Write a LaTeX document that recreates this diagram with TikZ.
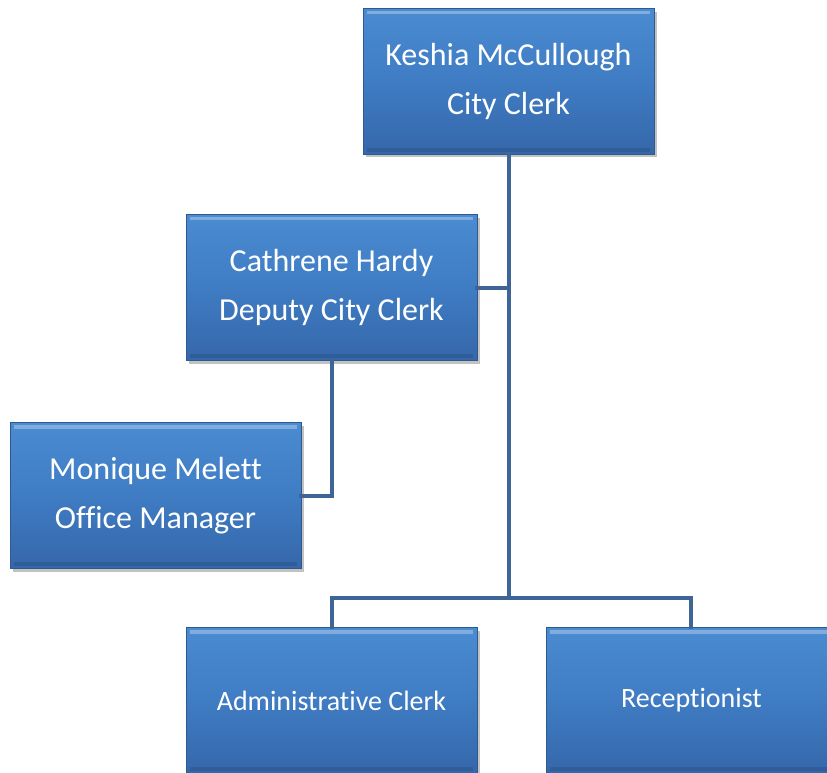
\documentclass[tikz,border=0pt]{standalone}
\usepackage{fontspec}
\setmainfont{Carlito}[Ligatures={NoCommon}]
\usetikzlibrary{shadows,calc}
\definecolor{linec}{HTML}{3D6596}
\definecolor{boxtop}{HTML}{4A8BD2}
\definecolor{boxmid}{HTML}{3F7CC3}
\definecolor{boxbot}{HTML}{3567AA}
\definecolor{boxedge}{HTML}{2E5A90}
\tikzset{
  orgbox/.style={rectangle, minimum width=218.25pt, minimum height=109pt,
    inner sep=0pt, align=center, text=white, font=\fontsize{24}{37}\selectfont,
    top color=boxtop, bottom color=boxbot, middle color=boxmid,
    draw=boxedge, line width=0.6pt,
    drop shadow={shadow xshift=2pt, shadow yshift=-2.5pt, opacity=0.4, fill=black!60},
    path picture={
      \draw[white, opacity=0.3, line width=2.5pt]
        ([xshift=3pt,yshift=-3pt]path picture bounding box.north west) --
        ([xshift=-3pt,yshift=-3pt]path picture bounding box.north east);
      \draw[black, opacity=0.1, line width=3pt]
        ([xshift=3pt,yshift=3pt]path picture bounding box.south west) --
        ([xshift=-3pt,yshift=3pt]path picture bounding box.south east);
    }},
  smallfont/.style={font=\fontsize{21}{26}\selectfont},
  conn/.style={draw=linec, line width=3pt, line cap=rect}
}
\begin{document}
\begin{tikzpicture}[x=0.75pt,y=-0.75pt]
\useasboundingbox (0,0) rectangle (827,773);
\clip (0,0) rectangle (827,773);
\coordinate (top) at (508.5,155);
\coordinate (bus) at (508.5,598);
\coordinate (depj) at (508.5,288);
\coordinate (admtop) at (332,598);
\coordinate (rectop) at (691,598);
\node[orgbox] (kes) at (508.5,81.5) {Keshia McCullough\\City Clerk};
\node[orgbox] (dep) at (331.5,287.5) {Cathrene Hardy\\Deputy City Clerk};
\node[orgbox] (mon) at (155.5,495.5) {Monique Melett\\Office Manager};
\node[orgbox, smallfont] (adm) at (331.5,700.5) {Administrative Clerk};
\node[orgbox, smallfont] (rec) at (691.5,700.5) {Receptionist};
\draw[conn] (kes.south -| top) -- (bus);
\draw[conn] (dep.east |- depj) -- (depj);
\draw[conn] (dep.south -| admtop) |- (mon.east);
\draw[conn] (adm.north -| admtop) -- (admtop) -- (rectop) -- (rec.north -| rectop);
\end{tikzpicture}
\end{document}
